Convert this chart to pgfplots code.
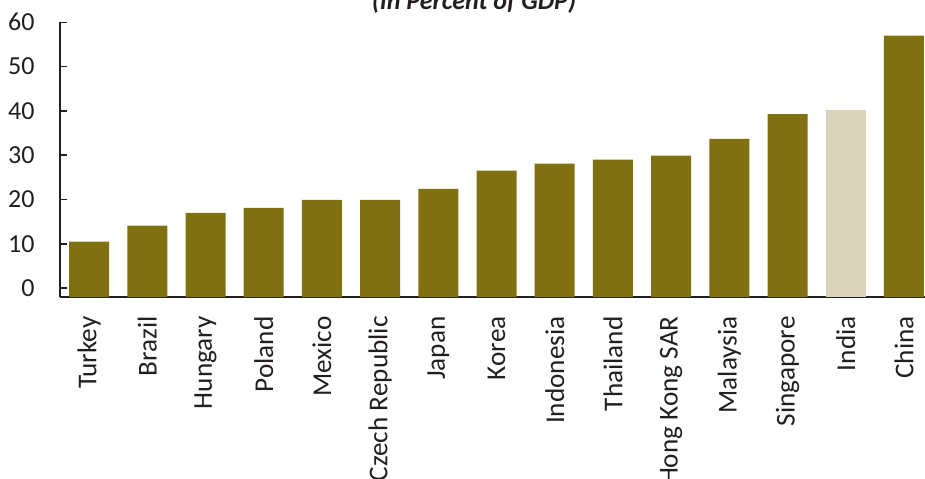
\documentclass[border=0pt]{standalone}
\usepackage{fontspec}
\setmainfont{Carlito}
\usepackage{pgfplots}
\pgfplotsset{compat=1.18}
\definecolor{barolive}{RGB}{128,112,18}
\definecolor{barindia}{RGB}{218,212,189}
\definecolor{txt}{RGB}{35,31,32}
\begin{document}
\begin{tikzpicture}[x=1pt,y=1pt]
\useasboundingbox (0,-239) rectangle (462.5,0);
\clip (0,-239) rectangle (462.5,0);
\node[font=\bfseries\itshape\fontsize{13}{15}\selectfont, text=txt, anchor=base] at (237,-4.5) {(In Percent of GDP)};
\begin{axis}[
  at={(30pt,-148.5pt)}, anchor=south west,
  scale only axis, width=436.5pt, height=137.35pt,
  xmin=-0.5, xmax=14.5, ymin=-2, ymax=60,
  axis lines*=left,
  axis line style={draw=txt, line width=0.8pt},
  tick align=inside,
  tick style={draw=txt, line width=0.8pt},
  major tick length=3.5pt,
  xtick={0,...,14},
  x tick style={draw=none},
  minor xtick={0.5,1.5,...,13.5},
  xticklabels={Turkey,Brazil,Hungary,Poland,Mexico,Czech Republic,Japan,Korea,Indonesia,Thailand,Hong Kong SAR,Malaysia,Singapore,India,China},
  xticklabel style={rotate=90, anchor=east, inner sep=0pt, font=\fontsize{13.6}{15}\selectfont, text=txt},
  xticklabel shift=6pt,
  ytick={0,10,...,60},
  yticklabel style={font=\fontsize{13}{15}\selectfont, text=txt, inner sep=0pt, xshift=-12.5pt},
  /pgf/number format/assume math mode=true,
  ybar, bar width=20pt, bar shift=0pt,
  clip=false,
]
\addplot[fill=barolive, draw=none] coordinates {
(0,10.5) (1,14.1) (2,17.0) (3,18.1) (4,19.9) (5,19.9) (6,22.4) (7,26.5)
(8,28.1) (9,29.0) (10,29.9) (11,33.7) (12,39.3) (14,57.0)};
\addplot[fill=barindia, draw=none] coordinates {(13,40.1)};
\addplot[fill=barolive, draw=none] coordinates {
(0,-2) (1,-2) (2,-2) (3,-2) (4,-2) (5,-2) (6,-2) (7,-2)
(8,-2) (9,-2) (10,-2) (11,-2) (12,-2) (14,-2)};
\addplot[fill=barindia, draw=none] coordinates {(13,-2)};
\end{axis}
\end{tikzpicture}
\end{document}
